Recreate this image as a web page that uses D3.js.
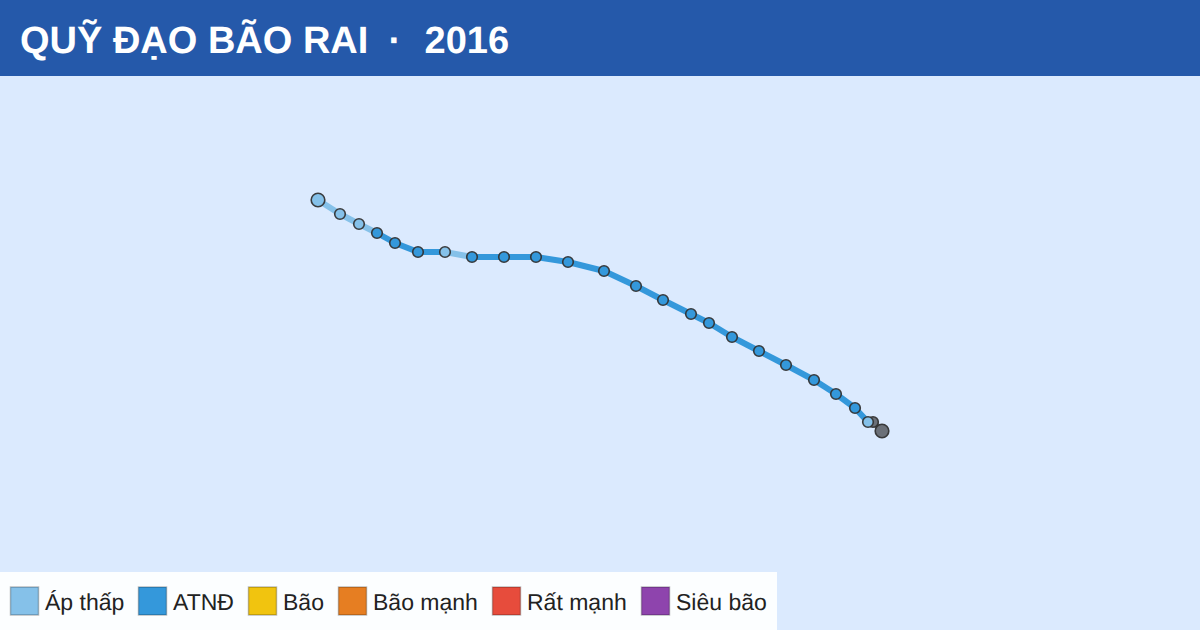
<!DOCTYPE html>
<html>
<head>
<meta charset="utf-8">
<script src="https://cdn.jsdelivr.net/npm/d3@7"></script>
<style>
  html, body { margin: 0; padding: 0; background: #dbeafe; }
  svg { display: block; font-family: "Liberation Sans", Arial, sans-serif; text-rendering: geometricPrecision; }
</style>
</head>
<body>
<svg id="chart" width="1200" height="630"></svg>
<script>
const titleName = "QUỸ ĐẠO BÃO RAI";
const titleDot = "·";
const titleYear = "2016";

// storm track, oldest point first (east to west)
const lons = [117.05, 116.825, 116.7, 116.375, 115.9, 115.35, 114.65, 113.975, 113.3, 112.725, 112.275, 111.575, 110.9, 110.1, 109.2, 108.4, 107.6, 106.8, 106.125, 105.45, 104.875, 104.425, 103.975, 103.5, 102.95];
const lats = [15.125, 15.35, 15.35, 15.7, 16.05, 16.4, 16.775, 17.125, 17.475, 17.825, 18.05, 18.4, 18.75, 19.125, 19.35, 19.475, 19.475, 19.475, 19.6, 19.6, 19.825, 20.075, 20.3, 20.55, 20.9];
const levels = ["na", "na", "td", "ts", "ts", "ts", "ts", "ts", "ts", "ts", "ts", "ts", "ts", "ts", "ts", "ts", "ts", "ts", "td", "ts", "ts", "ts", "td", "td", "td"];

const levelKeys = ["na", "td", "ts", "sts", "ty", "vsty", "sty"];
const levelColors = ["#6b7078", "#85c1e9", "#3498db", "#f1c40f", "#e67e22", "#e74c3c", "#8e44ad"];
const legendKeys = ["td", "ts", "sts", "ty", "vsty", "sty"];
const legendLabels = ["Áp thấp", "ATNĐ", "Bão", "Bão mạnh", "Rất mạnh", "Siêu bão"];

const svg = d3.select("#chart");
const width = +svg.attr("width");
const height = +svg.attr("height");
const headerH = 76;

const x = d3.scaleLinear().domain([95, 125]).range([0, width]);
const y = d3.scaleLinear().domain([24, 10.15]).range([headerH, height]);
const color = d3.scaleOrdinal().domain(levelKeys).range(levelColors);

const track = lons.map((lon, i) => ({ lon, lat: lats[i], level: levels[i] }));

// background and header
svg.append("rect")
  .attr("width", width)
  .attr("height", height)
  .attr("fill", "#dbeafe");

svg.append("rect")
  .attr("width", width)
  .attr("height", headerH)
  .attr("fill", "#2559aa");

// title parts are placed apart, the gaps are wider than plain spaces
const titleParts = [[titleName, 20], [titleDot, 388.5], [titleYear, 424.5]];
svg.append("g")
  .selectAll("text")
  .data(titleParts)
  .enter()
  .append("text")
  .attr("x", d => d[1])
  .attr("y", 53)
  .attr("fill", "#fff")
  .attr("font-size", "38px")
  .attr("font-weight", "bold")
  .text(d => d[0]);

// each segment takes the colour of the point it arrives at
svg.append("g")
  .selectAll("line")
  .data(track.slice(1))
  .enter()
  .append("line")
  .attr("x1", (d, i) => x(track[i].lon))
  .attr("y1", (d, i) => y(track[i].lat))
  .attr("x2", d => x(d.lon))
  .attr("y2", d => y(d.lat))
  .attr("stroke", d => color(d.level))
  .attr("stroke-width", 6);

svg.append("g")
  .selectAll("circle")
  .data(track)
  .enter()
  .append("circle")
  .attr("cx", d => x(d.lon))
  .attr("cy", d => y(d.lat))
  .attr("r", (d, i) => (i === 0 || i === track.length - 1) ? 6.8 : 5.3)
  .attr("fill", d => color(d.level))
  .attr("stroke", "#333")
  .attr("stroke-width", 1.6)
  .attr("stroke-opacity", 0.95);

// legend
const legend = svg.append("g");

legend.append("rect")
  .attr("x", 0)
  .attr("y", 572)
  .attr("width", 777)
  .attr("height", 58)
  .attr("fill", "#fff")
  .attr("opacity", 0.92);

const legendX = [10, 138, 248, 338, 492, 641];

legendKeys.forEach((key, i) => {
  legend.append("rect")
    .attr("x", legendX[i] + 0.5)
    .attr("y", 587)
    .attr("width", 28)
    .attr("height", 28)
    .attr("fill", color(key))
    .attr("stroke", "#000")
    .attr("stroke-opacity", 0.25)
    .attr("stroke-width", 1.5);

  legend.append("text")
    .attr("x", legendX[i] + 35)
    .attr("y", 610)
    .attr("fill", "#222")
    .attr("font-size", "23px")
    .text(legendLabels[i]);
});
</script>
</body>
</html>
